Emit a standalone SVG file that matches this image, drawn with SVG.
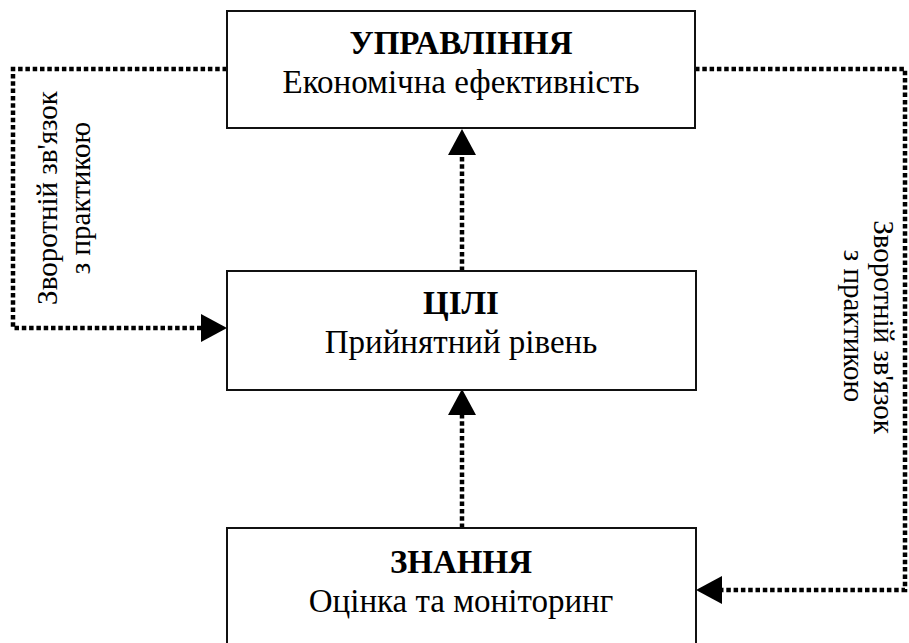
<svg xmlns="http://www.w3.org/2000/svg" width="909" height="643" viewBox="0 0 909 643">
<style>
.box{fill:#fff;stroke:#111;stroke-width:2}
.t{font-size:33px;fill:#000;text-anchor:middle}
.b{font-weight:bold}
.lbl{font-size:29px;fill:#000;text-anchor:middle}
.dot{fill:none;stroke:#000;stroke-width:4.5;stroke-dasharray:4.5 2.8}
</style>
<defs>
<marker id="ah" markerUnits="userSpaceOnUse" markerWidth="28" markerHeight="28" viewBox="0 0 26 28" refX="0" refY="14" orient="auto">
<path d="M0,0 L26,14 L0,28 Z" fill="#000"/>
</marker>
</defs>
<rect width="909" height="643" fill="#fff"/>
<g id="connectors">
<polyline class="dot" points="227,69 13,69 13,328 201,328" marker-end="url(#ah)"/>
<polyline class="dot" points="695,69 905,69 905,590 722,590" marker-end="url(#ah)"/>
<line class="dot" x1="462" y1="271" x2="462" y2="155" marker-end="url(#ah)"/>
<line class="dot" x1="462" y1="528" x2="462" y2="415" marker-end="url(#ah)"/>
</g>
<g font-family="Liberation Serif, Times New Roman, Tinos, DejaVu Serif, Noto Serif, FreeSerif, serif">
<g id="node-upravlinnia">
<rect class="box" x="227" y="11" width="468" height="117"/>
<text class="t b" x="461" y="54">УПРАВЛІННЯ</text>
<text class="t" x="461" y="93">Економічна ефективність</text>
</g>
<g id="node-tsili">
<rect class="box" x="227" y="271" width="469" height="119"/>
<text class="t b" x="461" y="314">ЦІЛІ</text>
<text class="t" x="461" y="353">Прийнятний рівень</text>
</g>
<g id="node-znannia">
<rect class="box" x="227" y="528" width="469" height="125"/>
<text class="t b" x="461" y="573">ЗНАННЯ</text>
<text class="t" x="461" y="612">Оцінка та моніторинг</text>
</g>
<g id="label-left">
<text class="lbl" transform="translate(57,198) rotate(-90)">Зворотній зв'язок</text>
<text class="lbl" transform="translate(90,198) rotate(-90)">з практикою</text>
</g>
<g id="label-right">
<text class="lbl" transform="translate(874,327) rotate(90)">Зворотній зв'язок</text>
<text class="lbl" transform="translate(844,326) rotate(90)">з практикою</text>
</g>
</g>
</svg>
